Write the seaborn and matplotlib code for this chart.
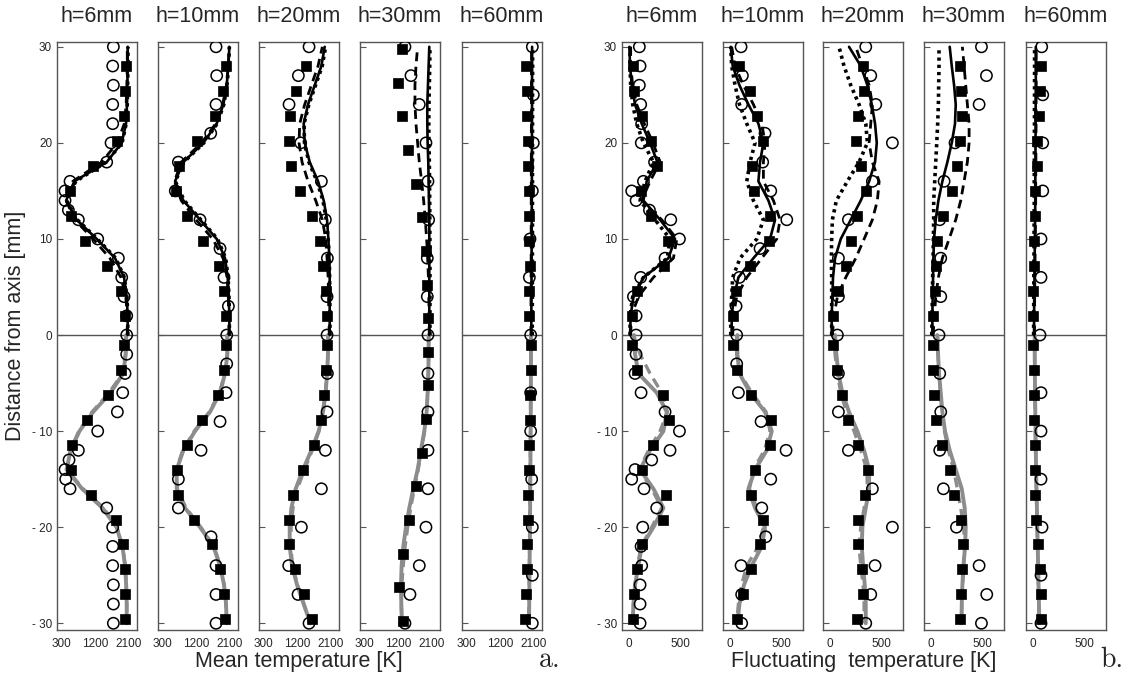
import matplotlib
matplotlib.use('Agg')
import matplotlib.pyplot as plt
from matplotlib.ticker import MultipleLocator
import seaborn as sns

# ---- shared y positions [mm] ----
LINE_Y_TOP = [0, 2, 4, 6, 8, 10, 12, 14, 16, 18, 20, 22, 24, 26, 28, 30]
LINE_Y_BOT = [0, -2, -4, -6, -8, -10, -12, -14, -16, -18, -20, -22, -24, -26, -28, -30]
SQ_Y_TOP = [28.0, 25.4, 22.8, 20.2, 17.6, 15.0, 12.4, 9.8, 7.2, 4.6, 2.0]
SQ_Y_BOT = [-1.0, -3.6, -6.2, -8.8, -11.4, -14.0, -16.6, -19.2, -21.8, -24.4, -27.0, -29.6]
SQ_Y_TOP_35 = [29.75, 26.25, 22.75, 19.25, 15.75, 12.25, 8.75, 5.25, 1.75]
SQ_Y_BOT_35 = [-1.75, -5.25, -8.75, -12.25, -15.75, -19.25, -22.75, -26.25, -29.75]
CIRC_Y_H6 = [30, 28, 26, 24, 22, 20, 18, 16, 15, 14, 13, 12, 10, 8, 6, 4, 2, 0,
             -2, -4, -6, -8, -10, -12, -13, -14, -15, -16, -18, -20, -22, -24, -26, -28, -30]
CIRC_Y_3MM = [30, 27, 24, 21, 18, 15, 12, 9, 6, 3, 0, -3, -6, -9, -12, -15, -18, -21, -24, -27, -30]
CIRC_Y_4MM = [30, 27, 24, 20, 16, 12, 8, 4, 0, -4, -8, -12, -16, -20, -24, -27, -30]
CIRC_Y_H60 = [30, 25, 20, 15, 10, 6, 0, -6, -10, -15, -20, -25, -30]

TITLES = ['h=6mm', 'h=10mm', 'h=20mm', 'h=30mm', 'h=60mm']

# ---- mean temperature [K] ----
M6_CIRC = [1695, 1677, 1695, 1677, 1677, 1632, 1515, 525, 390, 390, 480, 750, 1272, 1830, 1920, 1983, 2055, 2055,
           2055, 2010, 1947, 1803, 1272, 750, 498, 390, 408, 525, 1515, 1677, 1677, 1677, 1695, 1695, 1695]
M6_SQ_TOP = [2037, 2010, 1983, 1785, 1155, 525, 543, 930, 1515, 1893, 2010]
M6_SQ_BOT = [1983, 1893, 1560, 993, 570, 543, 1083, 1767, 1965, 2010, 2010, 2010]
M6_SOLID_TOP = [2082, 2082, 2055, 1983, 1740, 1245, 705, 420, 640, 1515, 1920, 2037, 2064, 2073, 2082, 2082]
M6_DASH_TOP = [2070, 2070, 2030, 1900, 1600, 1150, 650, 420, 600, 1380, 1800, 1990, 2040, 2060, 2070, 2070]
M6_DOT_TOP = [2085, 2085, 2060, 1990, 1760, 1260, 720, 430, 680, 1500, 1930, 2040, 2070, 2080, 2090, 2090]
M6_SOLID_BOT = [2040, 2030, 1960, 1620, 1150, 780, 540, 430, 850, 1400, 1780, 1940, 2010, 2040, 2055, 2055]
M6_DASH_BOT = [2045, 2020, 1940, 1580, 1120, 760, 540, 440, 880, 1430, 1790, 1945, 2015, 2045, 2055, 2055]

M10_CIRC = [1740, 1758, 1740, 1596, 723, 640, 1308, 1848, 1956, 2073, 2028,
            2028, 2010, 1848, 1335, 723, 723, 1605, 1740, 1740, 1740]
M10_SQ_TOP = [2010, 1938, 1713, 1218, 741, 660, 948, 1380, 1830, 1956, 2010]
M10_SQ_BOT = [2001, 1956, 1803, 1353, 948, 678, 723, 1155, 1623, 1848, 1956, 1983]
M10_SOLID_TOP = [2100, 2100, 2082, 2055, 1983, 1758, 1308, 858, 633, 858, 1398, 1758, 1938, 2028, 2073, 2100]
M10_DASH_TOP = [2090, 2090, 2070, 2040, 1930, 1650, 1200, 800, 620, 800, 1350, 1730, 1920, 2020, 2070, 2095]
M10_DOT_TOP = [2100, 2100, 2090, 2065, 2000, 1780, 1330, 880, 640, 870, 1410, 1770, 1950, 2035, 2080, 2100]
M10_SOLID_BOT = [2046, 2046, 1983, 1848, 1578, 1173, 858, 678, 678, 903, 1308, 1668, 1848, 1956, 2010, 2028]
M10_DASH_BOT = [2040, 2040, 1975, 1835, 1560, 1150, 840, 670, 690, 930, 1330, 1680, 1855, 1960, 2010, 2028]

M20_CIRC = [1524, 1236, 984, 1299, 1857, 1965, 2019, 2010, 2010,
            2019, 2010, 1965, 1857, 1317, 975, 1227, 1524]
M20_SQ_TOP = [1452, 1182, 1002, 975, 1047, 1281, 1605, 1812, 1902, 1974, 2010]
M20_SQ_BOT = [2010, 1974, 1929, 1839, 1659, 1362, 1092, 984, 975, 1137, 1380, 1614]
M20_SOLID_TOP = [2082, 2082, 2082, 2082, 2073, 2046, 2010, 1920, 1767, 1542, 1407, 1380, 1497, 1677, 1857, 1947]
M20_DASH_TOP = [2070, 2060, 2050, 2040, 2010, 1974, 1884, 1704, 1497, 1335, 1254, 1272, 1407, 1587, 1767, 1884]
M20_DOT_TOP = [2090, 2090, 2085, 2080, 2070, 2040, 1990, 1900, 1740, 1520, 1400, 1390, 1520, 1700, 1880, 1970]
M20_SOLID_BOT = [2037, 2037, 2010, 1974, 1902, 1785, 1587, 1362, 1164, 1047, 1002, 1002, 1065, 1200, 1380, 1560]
M20_DASH_BOT = [2040, 2035, 2005, 1965, 1890, 1790, 1610, 1400, 1210, 1090, 1040, 1030, 1080, 1210, 1385, 1560]

M30_CIRC = [1387, 1549, 1774, 1954, 2008, 2026, 1990, 1990, 2008,
            2008, 2008, 2008, 2008, 1954, 1774, 1522, 1387]
M30_SQ_TOP = [1297, 1207, 1315, 1477, 1684, 1855, 1963, 1981, 2008]
M30_SQ_BOT = [2017, 1999, 1954, 1846, 1684, 1486, 1333, 1234, 1324]
M30_SOLID_TOP = [2044, 2044, 2044, 2044, 2044, 2044, 2044, 2035, 2026, 2017, 1999, 1990, 1990, 2008, 2026, 2044]
M30_DASH_TOP = [2044, 2040, 2030, 2020, 1999, 1972, 1936, 1891, 1837, 1774, 1729, 1684, 1657, 1657, 1684, 1729]
M30_DOT_TOP = [2062, 2062, 2062, 2062, 2062, 2060, 2058, 2055, 2050, 2045, 2035, 2030, 2035, 2045, 2055, 2062]
M30_SOLID_BOT = [2026, 2026, 2017, 1999, 1972, 1909, 1819, 1729, 1612, 1504, 1414, 1342, 1297, 1279, 1288, 1306]
M30_DASH_BOT = [2030, 2028, 2020, 2003, 1978, 1918, 1830, 1745, 1640, 1540, 1460, 1390, 1340, 1300, 1290, 1300]

M60_CIRC = [2072, 2099, 2099, 2072, 2009, 1991, 2027, 2027, 2027, 2054, 2072, 2072, 2072]
M60_SQ_TOP = [1892, 1919, 1937, 1946, 1964, 1982, 1982, 1991, 2009, 1991, 1991]
M60_SQ_BOT = [2027, 2027, 2009, 2009, 1991, 1991, 1964, 1964, 1937, 1919, 1892, 1874]
M60_SOLID_TOP = [2045, 2045, 2048, 2050, 2052, 2054, 2056, 2058, 2060, 2060, 2062, 2062, 2064, 2064, 2066, 2066]
M60_DASH_TOP = [2035, 2035, 2036, 2038, 2040, 2040, 2042, 2042, 2044, 2044, 2046, 2046, 2048, 2048, 2050, 2050]
M60_DOT_TOP = [2070, 2070, 2072, 2072, 2074, 2074, 2075, 2075, 2076, 2076, 2077, 2077, 2078, 2078, 2080, 2080]
M60_SOLID_BOT = [2036, 2036, 2034, 2032, 2030, 2027, 2024, 2020, 2016, 2012, 2008, 2003, 1998, 1993, 1988, 1982]
M60_DASH_BOT = [2030, 2030, 2028, 2026, 2024, 2021, 2018, 2014, 2010, 2006, 2002, 1997, 1992, 1987, 1982, 1976]

# ---- fluctuating temperature [K] ----
F6_CIRC = [101, 108, 101, 114, 124, 120, 250, 141, 26, 69, 200, 409, 494, 353, 114, 43, 69, 69,
           69, 59, 118, 353, 494, 402, 222, 59, 26, 147, 271, 134, 118, 124, 108, 108, 108]
F6_SQ_TOP = [36, 49, 124, 216, 271, 118, 213, 386, 343, 82, 33]
F6_SQ_BOT = [33, 82, 337, 396, 232, 124, 363, 330, 124, 82, 49, 43]
F6_SOLID_TOP = [10, 16, 43, 141, 386, 451, 304, 141, 173, 278, 206, 124, 59, 26, 10, 3]
F6_DASH_TOP = [16, 23, 92, 239, 435, 468, 320, 124, 206, 304, 235, 150, 75, 36, 16, 16]
F6_DOT_TOP = [10, 10, 36, 141, 376, 402, 255, 108, 157, 239, 141, 75, 36, 16, 10, 10]
F6_SOLID_BOT = [49, 59, 92, 271, 370, 337, 206, 108, 239, 337, 239, 124, 92, 59, 43, 36]
F6_DASH_BOT = [43, 108, 206, 320, 376, 304, 190, 101, 222, 320, 222, 118, 82, 59, 43, 36]

F10_CIRC = [108, 121, 114, 343, 320, 399, 556, 294, 92, 59, 65,
            65, 82, 304, 549, 399, 311, 350, 108, 114, 114]
F10_SQ_TOP = [92, 196, 268, 320, 213, 235, 392, 386, 196, 59, 33]
F10_SQ_BOT = [33, 65, 203, 402, 392, 245, 203, 327, 294, 206, 124, 72]
F10_SOLID_TOP = [16, 16, 39, 82, 229, 392, 441, 376, 278, 294, 327, 278, 180, 92, 26, 7]
F10_DASH_TOP = [26, 33, 65, 164, 311, 458, 490, 425, 327, 327, 343, 311, 229, 131, 49, 16]
F10_DOT_TOP = [7, 7, 16, 26, 98, 262, 327, 229, 164, 196, 245, 164, 92, 49, 16, 7]
F10_SOLID_BOT = [72, 72, 92, 196, 343, 409, 360, 245, 180, 245, 343, 311, 213, 137, 92, 72]
F10_DASH_BOT = [65, 65, 98, 213, 353, 392, 337, 229, 190, 262, 327, 278, 164, 114, 82, 65]

F20_CIRC = [350, 399, 448, 611, 415, 180, 82, 82, 72,
            82, 82, 180, 415, 611, 441, 399, 350]
F20_SQ_TOP = [327, 334, 278, 252, 301, 350, 268, 203, 154, 82, 29]
F20_SQ_BOT = [33, 72, 114, 177, 278, 373, 343, 278, 278, 317, 327, 262]
F20_SOLID_TOP = [16, 16, 23, 29, 49, 105, 203, 301, 383, 441, 458, 441, 409, 366, 301, 186]
F20_DASH_TOP = [23, 39, 72, 154, 252, 334, 415, 464, 481, 415, 383, 399, 415, 383, 317, 252]
F20_DOT_TOP = [16, 16, 16, 16, 13, 16, 23, 62, 170, 284, 366, 350, 284, 203, 137, 88]
F20_SOLID_BOT = [49, 62, 82, 121, 186, 268, 334, 383, 383, 350, 317, 311, 324, 340, 350, 350]
F20_DASH_BOT = [39, 49, 72, 105, 160, 235, 301, 360, 366, 334, 301, 284, 301, 324, 334, 334]

F30_CIRC = [494, 543, 471, 235, 128, 85, 95, 95, 78,
            85, 95, 85, 121, 249, 471, 546, 494]
F30_SQ_TOP = [284, 291, 307, 284, 252, 209, 118, 62, 46, 39, 23]
F30_SQ_BOT = [20, 20, 29, 46, 105, 183, 226, 291, 317, 307, 291, 284]
F30_SOLID_TOP = [13, 13, 16, 20, 23, 29, 46, 72, 111, 160, 203, 235, 242, 226, 203, 183]
F30_DASH_TOP = [20, 33, 46, 72, 111, 177, 242, 291, 324, 356, 373, 373, 356, 340, 324, 307]
F30_DOT_TOP = [7, 10, 13, 16, 20, 23, 26, 26, 36, 46, 56, 65, 72, 75, 78, 78]
F30_SOLID_BOT = [62, 69, 78, 95, 111, 137, 183, 242, 301, 330, 340, 334, 317, 307, 301, 298]
F30_DASH_BOT = [62, 69, 78, 92, 108, 131, 170, 222, 258, 291, 320, 330, 320, 310, 301, 298]

F60_CIRC = [85, 95, 95, 95, 78, 78, 68, 78, 78, 78, 88, 78, 78]
F60_SQ_TOP = [78, 68, 61, 34, 34, 17, 17, 10, 10, 3, 3]
F60_SQ_BOT = [3, 10, 10, 10, 17, 20, 20, 27, 44, 68, 78, 78]
F60_SOLID_TOP = [10, 10, 12, 14, 16, 18, 20, 22, 22, 24, 24, 26, 26, 27, 27, 27]
F60_DASH_TOP = [14, 14, 16, 18, 20, 22, 24, 26, 26, 28, 28, 30, 30, 31, 31, 31]
F60_DOT_TOP = [6, 6, 7, 8, 9, 10, 11, 12, 12, 13, 13, 14, 14, 15, 15, 15]
F60_SOLID_BOT = [17, 17, 18, 20, 22, 24, 27, 30, 34, 38, 42, 46, 50, 54, 58, 61]
F60_DASH_BOT = [15, 15, 16, 18, 20, 22, 25, 28, 32, 36, 40, 44, 48, 52, 56, 59]


def panel(circ_y, circ, sq_top, sq_bot, solid_top, dash_top, dot_top, solid_bot, dash_bot,
          sq_y_top=SQ_Y_TOP, sq_y_bot=SQ_Y_BOT):
    return dict(circ_y=circ_y, circ=circ, sq_y=sq_y_top + sq_y_bot, sq=sq_top + sq_bot,
                solid_top=solid_top, dash_top=dash_top, dot_top=dot_top,
                solid_bot=solid_bot, dash_bot=dash_bot)


MEAN_PANELS = [
    panel(CIRC_Y_H6, M6_CIRC, M6_SQ_TOP, M6_SQ_BOT, M6_SOLID_TOP, M6_DASH_TOP, M6_DOT_TOP, M6_SOLID_BOT, M6_DASH_BOT),
    panel(CIRC_Y_3MM, M10_CIRC, M10_SQ_TOP, M10_SQ_BOT, M10_SOLID_TOP, M10_DASH_TOP, M10_DOT_TOP, M10_SOLID_BOT, M10_DASH_BOT),
    panel(CIRC_Y_4MM, M20_CIRC, M20_SQ_TOP, M20_SQ_BOT, M20_SOLID_TOP, M20_DASH_TOP, M20_DOT_TOP, M20_SOLID_BOT, M20_DASH_BOT),
    panel(CIRC_Y_4MM, M30_CIRC, M30_SQ_TOP, M30_SQ_BOT, M30_SOLID_TOP, M30_DASH_TOP, M30_DOT_TOP, M30_SOLID_BOT, M30_DASH_BOT,
          SQ_Y_TOP_35, SQ_Y_BOT_35),
    panel(CIRC_Y_H60, M60_CIRC, M60_SQ_TOP, M60_SQ_BOT, M60_SOLID_TOP, M60_DASH_TOP, M60_DOT_TOP, M60_SOLID_BOT, M60_DASH_BOT),
]
FLUCT_PANELS = [
    panel(CIRC_Y_H6, F6_CIRC, F6_SQ_TOP, F6_SQ_BOT, F6_SOLID_TOP, F6_DASH_TOP, F6_DOT_TOP, F6_SOLID_BOT, F6_DASH_BOT),
    panel(CIRC_Y_3MM, F10_CIRC, F10_SQ_TOP, F10_SQ_BOT, F10_SOLID_TOP, F10_DASH_TOP, F10_DOT_TOP, F10_SOLID_BOT, F10_DASH_BOT),
    panel(CIRC_Y_4MM, F20_CIRC, F20_SQ_TOP, F20_SQ_BOT, F20_SOLID_TOP, F20_DASH_TOP, F20_DOT_TOP, F20_SOLID_BOT, F20_DASH_BOT),
    panel(CIRC_Y_4MM, F30_CIRC, F30_SQ_TOP, F30_SQ_BOT, F30_SOLID_TOP, F30_DASH_TOP, F30_DOT_TOP, F30_SOLID_BOT, F30_DASH_BOT),
    panel(CIRC_Y_H60, F60_CIRC, F60_SQ_TOP, F60_SQ_BOT, F60_SOLID_TOP, F60_DASH_TOP, F60_DOT_TOP, F60_SOLID_BOT, F60_DASH_BOT),
]

W, H = 1147, 677
SANS = ['Liberation Sans', 'DejaVu Sans']
GRAY = '#8c8c8c'
SPINE = '#555555'


def draw_panel(ax, p):
    # model curves: black above the axis, gray below
    line_kw = dict(sort=False, estimator=None, legend=False, ax=ax)
    sns.lineplot(x=p['solid_bot'], y=LINE_Y_BOT, color=GRAY, lw=2.8, **line_kw)
    sns.lineplot(x=p['dash_bot'], y=LINE_Y_BOT, color=GRAY, lw=2.4, linestyle=(0, (3.0, 1.8)), **line_kw)
    sns.lineplot(x=p['dash_top'], y=LINE_Y_TOP, color='black', lw=2.0, linestyle=(0, (3.2, 2.0)), **line_kw)
    sns.lineplot(x=p['dot_top'], y=LINE_Y_TOP, color='black', lw=2.6, linestyle=(0, (0.9, 1.1)), **line_kw)
    sns.lineplot(x=p['solid_top'], y=LINE_Y_TOP, color='black', lw=1.9, **line_kw)
    ax.axhline(0, color=SPINE, lw=1.0, zorder=1)
    # measurements
    sns.scatterplot(x=p['sq'], y=p['sq_y'], marker='s', s=52, color='black', edgecolor='black',
                    linewidth=0.5, legend=False, ax=ax, zorder=4)
    sns.scatterplot(x=p['circ'], y=p['circ_y'], marker='o', s=66, facecolor='none', edgecolor='black',
                    linewidth=1.1, legend=False, ax=ax, zorder=5)
    ax.set_ylim(-30.7, 30.5)
    ax.set_xlabel('')
    ax.set_ylabel('')
    for sp in ax.spines.values():
        sp.set_color(SPINE)
        sp.set_linewidth(1.0)
    ax.set_yticks([-30, -20, -10, 0, 10, 20, 30])
    ax.tick_params(axis='y', direction='in', length=4, width=0.8, color=SPINE, left=True, right=False)


sns.set_style('white')
plt.rcParams['font.family'] = SANS

fig = plt.figure(figsize=(W / 100, H / 100), dpi=100)

mean_lefts = [57, 158, 259, 360, 462]
fluct_lefts = [622, 723, 823, 924, 1026]
ax_bottom, ax_top, ax_w = 630, 42, 80

for group, lefts in (('mean', mean_lefts), ('fluct', fluct_lefts)):
    panels = MEAN_PANELS if group == 'mean' else FLUCT_PANELS
    for i, (L, p) in enumerate(zip(lefts, panels)):
        ax = fig.add_axes([L / W, 1 - ax_bottom / H, ax_w / W, (ax_bottom - ax_top) / H])
        draw_panel(ax, p)
        if group == 'mean':
            ax.set_xlim(173, 2333)
            ax.set_xticks([300, 1200, 2100])
            ax.set_xticklabels(['300', '1200', '2100'], fontsize=8.5)
            ax.tick_params(axis='x', direction='in', length=0, pad=6)
        else:
            ax.set_xlim(-69, 715)
            ax.set_xticks([0, 500])
            ax.set_xticklabels(['0', '500'], fontsize=8.5)
            ax.xaxis.set_minor_locator(MultipleLocator(100))
            ax.tick_params(axis='x', which='both', direction='in', length=3, width=0.8, color=SPINE, pad=6)
        if i == 0:
            ax.set_yticklabels(['- 30', '- 20', '- 10', '0', '10', '20', '30'], fontsize=8.5)
        else:
            ax.set_yticklabels([])
        fig.text((L + ax_w / 2) / W, 1 - 17 / H, TITLES[i], ha='center', va='center', fontsize=15.5)

fig.text(16 / W, 1 - 326 / H, 'Distance from axis [mm]', rotation=90, ha='center', va='center', fontsize=15.5)
fig.text(299 / W, 1 - 661 / H, 'Mean temperature [K]', ha='center', va='center', fontsize=15.5)
fig.text(864 / W, 1 - 661 / H, 'Fluctuating  temperature [K]', ha='center', va='center', fontsize=15.5)
fig.text(550 / W, 1 - 660 / H, 'a.', ha='center', va='center', fontsize=20, family=['cmr10', 'DejaVu Serif'])
fig.text(1112 / W, 1 - 660 / H, 'b.', ha='center', va='center', fontsize=20, family=['cmr10', 'DejaVu Serif'])

fig.savefig('out.png', dpi=100)
